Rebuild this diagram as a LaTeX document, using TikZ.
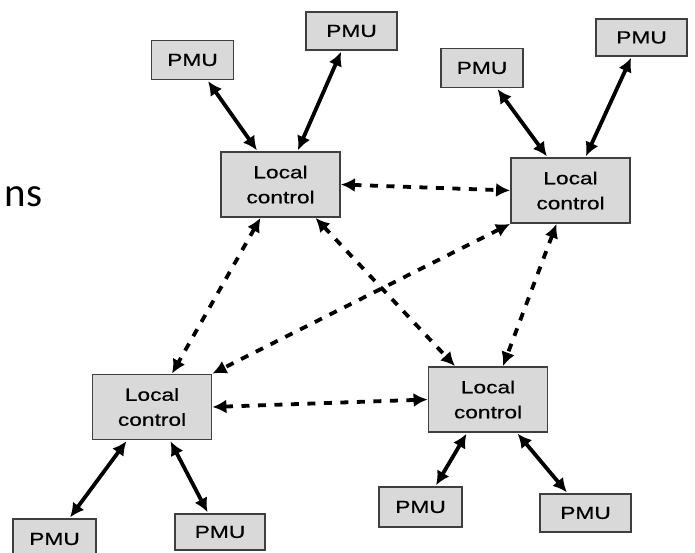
\documentclass[tikz,border=0pt]{standalone}
\usepackage{fontspec}
\usepackage{tikz}
\usetikzlibrary{arrows.meta}
\newfontfamily\boxfont[FakeStretch=1.3, FakeBold=0.6]{Liberation Sans}
\newfontfamily\slidefont{Carlito}
\definecolor{boxgray}{HTML}{D9D9D9}
\definecolor{edgegray}{HTML}{3F3F3F}

\begin{document}
\begin{tikzpicture}[x=1pt, y=-1pt, pmu/.style={rectangle, draw=edgegray, fill=boxgray, line width=1.8pt, minimum width=82pt, minimum height=39pt, inner sep=0pt, font=\boxfont\fontsize{17.5}{20}\selectfont}, local/.style={rectangle, draw=edgegray, fill=boxgray, line width=1.8pt, minimum width=119pt, minimum height=65pt, inner sep=0pt, align=center, font=\boxfont\fontsize{17.5}{25}\selectfont}, link/.style={{Latex[length=14pt,width=14pt]}-{Latex[length=14pt,width=14pt]}, line width=3.8pt, shorten <=1pt, shorten >=1pt}, peer/.style={{Latex[length=14pt,width=14pt]}-{Latex[length=14pt,width=14pt]}, line width=3.8pt, dash pattern=on 8pt off 8.5pt}]

    \useasboundingbox (0,0) rectangle (695,553);

    % Nodes
    \node[anchor=base west, font=\slidefont\fontsize{41}{44}\selectfont] (cut) at (1,207) {ns};

    \node[local] (locA) at (280.5,184.5) {Local\\control};
    \node[local] (locB) at (570.5,190.5) {Local\\control};
    \node[local] (locC) at (152,407)     {Local\\control};
    \node[local] (locD) at (488,399.5)   {Local\\control};

    \node[pmu] (pmuA1) at (192.5,60)  {PMU};
    \node[pmu, minimum width=91pt, minimum height=38pt] (pmuA2) at (351.5,31)  {PMU};
    \node[pmu] (pmuB1) at (482,68)    {PMU};
    \node[pmu, minimum width=91pt, minimum height=37pt] (pmuB2) at (641.5,37.5) {PMU};
    \node[pmu, minimum width=83pt, minimum height=40pt] (pmuC1) at (54.5,539)  {PMU};
    \node[pmu, minimum width=90pt, minimum height=36pt] (pmuC2) at (220,532)   {PMU};
    \node[pmu, minimum width=83pt, minimum height=40pt] (pmuD1) at (420.5,507) {PMU};
    \node[pmu, minimum width=91pt, minimum height=38pt] (pmuD2) at (585.5,513) {PMU};

    % Lines ---------------
    \draw[link] ([xshift=15pt]pmuA1.south) -- ([xshift=-23pt]locA.north);
    \draw[link] ([xshift=-10pt]pmuA2.south) -- ([xshift=17pt]locA.north);
    \draw[link] ([xshift=15pt]pmuB1.south) -- ([xshift=-23pt]locB.north);
    \draw[link] ([xshift=-10pt]pmuB2.south) -- ([xshift=15pt]locB.north);
    \draw[link] ([xshift=-25pt]locC.south) -- ([xshift=15pt]pmuC1.north);
    \draw[link] ([xshift=18pt]locC.south) -- ([xshift=-12pt]pmuC2.north);
    \draw[link] ([xshift=-21pt]locD.south) -- ([xshift=15pt]pmuD1.north);
    \draw[link] ([xshift=29pt]locD.south) -- ([xshift=-18pt]pmuD2.north);

    % Local control links
    \draw[peer] (locA.east) -- (locB.west);
    \draw[peer] (locC.east) -- (locD.west);
    \draw[peer] ([xshift=-20pt]locA.south) -- ([xshift=20pt]locC.north);
    \draw[peer] ([xshift=35pt]locA.south) -- ([xshift=-33pt]locD.north);
    \draw[peer] (locB.south west) -- (locC.north east);
    \draw[peer] ([xshift=-14pt]locB.south) -- ([xshift=15pt]locD.north);

\end{tikzpicture}
\end{document}
